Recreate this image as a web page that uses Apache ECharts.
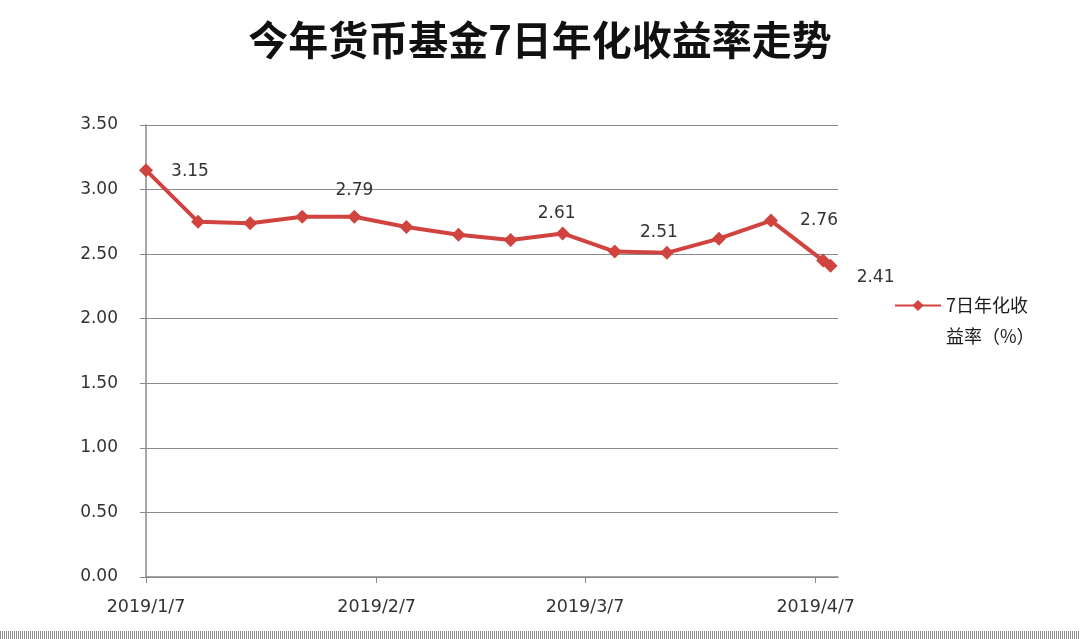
<!DOCTYPE html>
<html lang="zh">
<head>
    <meta charset="UTF-8">
    <title>今年货币基金7日年化收益率走势</title>
    <script src="https://cdn.jsdelivr.net/npm/echarts@6/dist/echarts.min.js"></script>
    <style>
        html, body { margin: 0; padding: 0; background: #fff; }
        #main { width: 1080px; height: 639px; }
    </style>
</head>
<body>
<div id="main"></div>
<script>
    // 数据
    var dates = ['2019/1/7', '2019/1/14', '2019/1/21', '2019/1/28', '2019/2/4', '2019/2/11', '2019/2/18',
        '2019/2/25', '2019/3/4', '2019/3/11', '2019/3/18', '2019/3/25', '2019/4/1', '2019/4/8', '2019/4/9'];
    var rates = [3.15, 2.75, 2.74, 2.79, 2.79, 2.71, 2.65, 2.61, 2.66, 2.52, 2.51, 2.62, 2.76, 2.45, 2.41];
    var tickDates = ['2019/1/7', '2019/2/7', '2019/3/7', '2019/4/7'];
    var labelIdx = [0, 4, 7, 10, 12, 14];
    var seriesName = '7日年化收益率（%）';

    function toTime(s) {
        var p = s.split('/');
        return new Date(+p[0], +p[1] - 1, +p[2]).getTime();
    }

    var numFont = 'DejaVu Sans, Verdana, sans-serif';

    // 标注的偏移（位置，不是数据）
    var labelOffset = {
        0: [44, 1], 4: [0, -26], 7: [46, -26], 10: [-8, -20], 12: [48, 0], 14: [45, 12]
    };

    var data = [];
    for (var i = 0; i < dates.length; i++) {
        var item = { value: [toTime(dates[i]), rates[i]] };
        if (labelIdx.indexOf(i) >= 0) {
            item.label = {
                show: true,
                position: 'inside',
                offset: labelOffset[i],
                formatter: function (p) { return p.value[1].toFixed(2); },
                color: '#333',
                fontSize: 17,
                fontFamily: numFont
            };
        }
        data.push(item);
    }

    var tickTimes = tickDates.map(toTime);

    echarts.init(document.getElementById('main')).setOption({
        backgroundColor: '#fff',
        animation: false,
        title: {
            text: '今年货币基金7日年化收益率走势',
            left: 'center',
            top: 15,
            textStyle: {
                fontFamily: 'Noto Sans CJK SC',
                fontWeight: 'bold',
                fontSize: 40,
                color: '#111'
            }
        },
        legend: {
            data: [seriesName],
            left: 889,
            top: 254,
            itemWidth: 46,
            itemHeight: 14,
            itemGap: 4,
            // 开头空一行，让图标对齐第一行文字
            formatter: function () { return '\n7日年化收\n益率（%）'; },
            textStyle: {
                fontFamily: 'Noto Sans CJK SC',
                fontSize: 18,
                color: '#1a1a1a',
                lineHeight: 31
            }
        },
        grid: { left: 146, right: 242, top: 125, bottom: 62 },
        // 用数值轴放时间戳，刻度只放在每月7日
        xAxis: {
            type: 'value',
            min: toTime('2019/1/7'),
            max: toTime('2019/4/10'),
            axisLine: { lineStyle: { color: '#888', width: 1.5 } },
            axisTick: {
                show: true,
                length: 6,
                lineStyle: { color: '#888' },
                customValues: tickTimes
            },
            axisLabel: {
                customValues: tickTimes,
                formatter: function (v) {
                    var d = new Date(v);
                    return d.getFullYear() + '/' + (d.getMonth() + 1) + '/' + d.getDate();
                },
                color: '#333',
                fontSize: 17.5,
                margin: 21,
                fontFamily: numFont
            },
            splitLine: { show: false }
        },
        yAxis: {
            type: 'value',
            min: 0,
            max: 3.5,
            interval: 0.5,
            axisLine: { show: true, lineStyle: { color: '#888', width: 1.5 } },
            axisTick: { show: true, length: 6, lineStyle: { color: '#888' } },
            axisLabel: {
                formatter: function (v) { return v.toFixed(2); },
                color: '#333',
                fontSize: 17,
                margin: 28,
                fontFamily: numFont
            },
            splitLine: { lineStyle: { color: '#8a8a8a', width: 1 } }
        },
        series: [{
            name: seriesName,
            type: 'line',
            data: data,
            symbol: 'diamond',
            symbolSize: 14,
            lineStyle: { color: '#d0433f', width: 4 },
            itemStyle: { color: '#d0433f' }
        }],
        graphic: [{
            // 底部的灰色花边
            type: 'line',
            shape: { x1: 0, y1: 635, x2: 1080, y2: 635 },
            style: { stroke: '#8c8c8c', lineWidth: 8, lineDash: [1, 1] }
        }]
    });
</script>
</body>
</html>
